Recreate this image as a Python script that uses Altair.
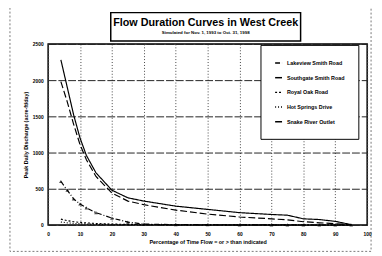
import altair as alt
import pandas as pd

pct = [4, 6, 8, 10, 12, 15, 20, 25, 30, 40, 50, 60, 70, 75, 80, 85, 90, 95]
lakeview = [600, 480, 360, 290, 235, 170, 95, 40, 12, 5, 3, 2, 1, 1, 0, 0, 0, 0]
southgate = [1980, 1700, 1390, 1110, 900, 670, 440, 330, 280, 205, 150, 110, 85, 70, 45, 30, 18, 3]
royal_oak = [80, 60, 45, 35, 28, 20, 12, 8, 5, 3, 2, 1, 1, 0, 0, 0, 0, 0]
hot_springs = [40, 30, 22, 17, 13, 9, 6, 4, 3, 2, 1, 1, 0, 0, 0, 0, 0, 0]
snake_outlet = [2280, 1900, 1520, 1200, 960, 720, 480, 375, 330, 260, 215, 170, 145, 135, 85, 75, 50, 5]

series_names = ["Lakeview Smith Road", "Southgate Smith Road", "Royal Oak Road",
                "Hot Springs Drive", "Snake River Outlet"]
series_values = [lakeview, southgate, royal_oak, hot_springs, snake_outlet]
dashes = [[5, 2, 1, 2], [7, 3], [2, 2], [1, 2], [1, 0]]
marker_series = ["Lakeview Smith Road"]

x_ticks = [0, 10, 20, 30, 40, 50, 60, 70, 80, 90, 100]
y_ticks = [0, 500, 1000, 1500, 2000, 2500]

title_text = "Flow Duration Curves in West Creek"
subtitle_text = "Simulated for Nov. 1, 1993 to Oct. 31, 1998"
x_title = "Percentage of Time Flow = or > than indicated"
y_title = "Peak Daily Discharge (acre-ft/day)"

rows = []
for name, vals in zip(series_names, series_values):
    for p, v in zip(pct, vals):
        rows.append({"pct": p, "flow": v, "series": name})
df = pd.DataFrame(rows)

FONT = "Liberation Sans"

xs = alt.Scale(domain=[0, 100], nice=False)
ys = alt.Scale(domain=[0, 2500], nice=False)

x_axis = alt.Axis(values=x_ticks, title=x_title, grid=True, gridDash=[1, 2],
                  gridColor="#444", ticks=False, labelPadding=7,
                  titlePadding=3, domain=False, labelOverlap=False,
                  format="d", labelFlush=False)
y_axis = alt.Axis(values=y_ticks, title=y_title, grid=True, gridDash=[8, 2],
                  gridColor="#222", ticks=False, labelPadding=5,
                  titlePadding=4, domain=False, labelOverlap=False,
                  format="d", labelFlush=False)

x_enc = alt.X("pct:Q", scale=xs, axis=x_axis)
y_enc = alt.Y("flow:Q", scale=ys, axis=y_axis)

lines = alt.Chart(df).mark_line(color="black", strokeWidth=1.2).encode(
    x=x_enc,
    y=y_enc,
    strokeDash=alt.StrokeDash(
        "series:N",
        scale=alt.Scale(domain=series_names, range=dashes),
        legend=alt.Legend(title=None, orient="none", legendX=217, legendY=1,
                          strokeColor="black", fillColor="white", padding=14,
                          symbolType="stroke", symbolStrokeColor="black",
                          symbolStrokeWidth=1.5, symbolSize=50, rowPadding=7,
                          labelFontSize=5.5, labelFontWeight="bold", labelFont=FONT,
                          labelLimit=120)),
)

points = alt.Chart(df[df["series"].isin(marker_series)]).mark_point(
    shape="triangle-up", filled=True, color="black", size=14
).encode(x=x_enc, y=y_enc)

box = pd.DataFrame({"k": [0]})
title_box = alt.Chart(box).mark_rect(fill="white", stroke="black", strokeWidth=1.5).encode(
    x=alt.value(64), x2=alt.value(258), y=alt.value(-32), y2=alt.value(-3))
title_mark = alt.Chart(box).mark_text(font=FONT, fontSize=11, fontWeight="bold",
                                      color="black").encode(
    x=alt.value(161), y=alt.value(-21), text=alt.value(title_text))
subtitle_mark = alt.Chart(box).mark_text(font=FONT, fontSize=4.5, fontWeight="bold",
                                         color="black").encode(
    x=alt.value(161), y=alt.value(-11), text=alt.value(subtitle_text))
outer = alt.Chart(box).mark_rect(fill=None, stroke="#555", strokeDash=[2, 2],
                                 strokeWidth=0.8).encode(
    x=alt.value(-39), x2=alt.value(330), y=alt.value(-39), y2=alt.value(212))

chart = alt.layer(outer, lines, points, title_box, title_mark, subtitle_mark).properties(
    width=326, height=185,
    padding={"left": 41, "top": 34, "right": 7, "bottom": 29},
    autosize="none",
).configure_view(stroke="black", strokeWidth=1.5).configure_axis(
    labelFont=FONT, titleFont=FONT, labelFontSize=5, titleFontSize=5.5,
    labelFontWeight="bold", titleFontWeight="bold", labelColor="black", titleColor="black"
)

chart.save("out.html", embed_options={"renderer": "svg", "actions": False})
